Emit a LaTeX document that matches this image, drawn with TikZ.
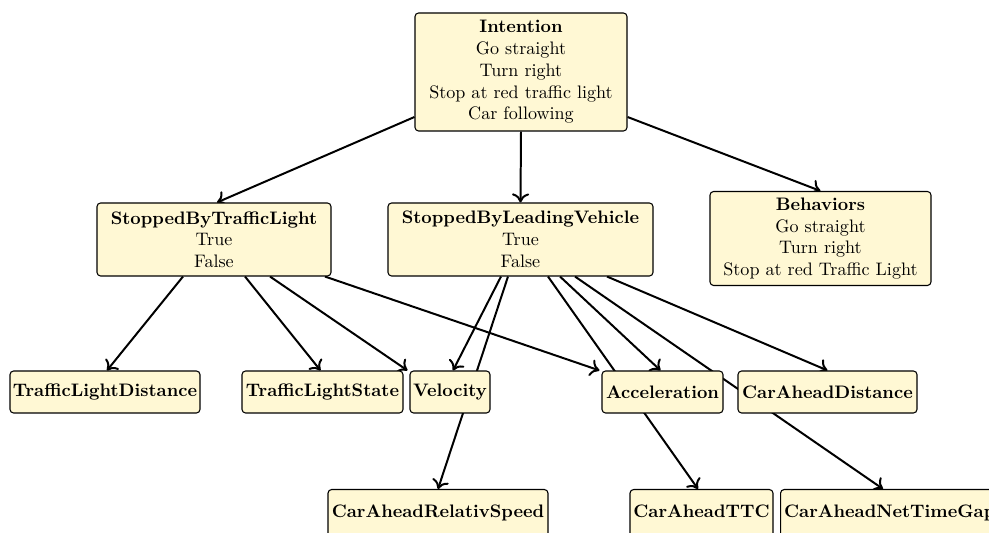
\documentclass[tikz,border=0pt]{standalone}
\usetikzlibrary{arrows.meta}
\pgfdeclarelayer{bg}
\pgfsetlayers{bg,main}
\definecolor{nodefill}{HTML}{FFF8D4}
\tikzset{
  box/.style={draw, line width=0.6pt, rounded corners=2pt, fill=nodefill, align=center, inner xsep=1pt, inner ysep=0pt},
  bw/.style={minimum width=#1*0.553pt},
  bh/.style={minimum height=#1*0.553pt},
  lowbox/.style={box, anchor=north, text height=15.5pt, text depth=30pt},
  edge/.style={line width=1.1pt, -{To[length=5pt,width=9.5pt]}}
}
\begin{document}
\begin{tikzpicture}[x=0.553pt,y=-0.553pt]
\useasboundingbox (0,0) rectangle (989,533);
\clip (0,0) rectangle (989,533);
\node[box,bw=212,bh=118] (int) at (521,72) {\textbf{Intention}\\Go straight\\Turn right\\Stop at red traffic light\\Car following};
\node[box,bw=234,bh=73] (sbtl) at (214,239.5) {\textbf{StoppedByTrafficLight}\\True\\False};
\node[box,bw=265,bh=73] (sblv) at (520.5,239.5) {\textbf{StoppedByLeadingVehicle}\\True\\False};
\node[box,bw=221,bh=94] (beh) at (820.5,238.5) {\textbf{Behaviors}\\Go straight\\Turn right\\Stop at red Traffic Light};
\node[box,bw=190,bh=42] (tld) at (105,392) {\textbf{TrafficLightDistance}};
\node[box,bw=161,bh=42] (tls) at (322.5,392) {\textbf{TrafficLightState}};
\node[box,bw=80,bh=42] (vel) at (450,392) {\textbf{Velocity}};
\node[box,bw=121,bh=42] (acc) at (662.5,392) {\textbf{Acceleration}};
\node[box,bw=179,bh=42] (cad) at (827.5,392) {\textbf{CarAheadDistance}};
\node[lowbox,bw=220] (cars) at (438,489) {\textbf{CarAheadRelativSpeed}};
\node[lowbox,bw=143] (catt) at (701.5,489) {\textbf{CarAheadTTC}};
\node[lowbox,anchor=north west,inner xsep=2pt] (catg) at (780,489) {\textbf{CarAheadNetTimeGap}};
\begin{pgfonlayer}{bg}
\draw[edge] ([shift={(0,45)}]int.west) -- ([shift={(3,0)}]sbtl.north);
\draw[edge] (int.south) -- (sblv.north);
\draw[edge] ([shift={(0,45)}]int.east) -- (beh.north);
\draw[edge] ([shift={(-31,0)}]sbtl.south) -- ([shift={(2,0)}]tld.north);
\draw[edge] ([shift={(31,0)}]sbtl.south) -- ([shift={(-2,0)}]tls.north);
\draw[edge] ([shift={(56,0)}]sbtl.south) -- ([shift={(-2,0)}]vel.north west);
\draw[edge] ([shift={(111,0)}]sbtl.south) -- ([shift={(-2,0)}]acc.north west);
\draw[edge] ([shift={(-19.5,0)}]sblv.south) -- ([shift={(3,0)}]vel.north);
\draw[edge] ([shift={(-12.5,0)}]sblv.south) -- (cars.north);
\draw[edge] ([shift={(27.5,0)}]sblv.south) -- ([shift={(-3.5,0)}]catt.north);
\draw[edge] ([shift={(39.5,0)}]sblv.south) -- ([shift={(-2,0)}]acc.north);
\draw[edge] ([shift={(54.5,0)}]sblv.south) -- ([shift={(103,0)}]catg.north west);
\draw[edge] ([shift={(86.5,0)}]sblv.south) -- (cad.north);
\end{pgfonlayer}
\end{tikzpicture}
\end{document}
